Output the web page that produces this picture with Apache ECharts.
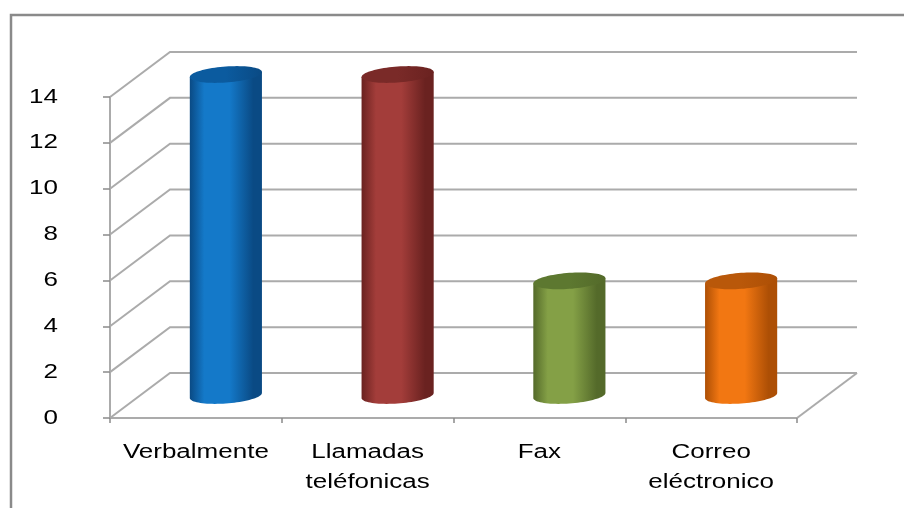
<!DOCTYPE html>
<html>
<head>
<meta charset="utf-8">
<script src="https://cdn.jsdelivr.net/npm/echarts@6/dist/echarts.min.js"></script>
<style>
  html, body { margin: 0; padding: 0; background: #ffffff; }
  #chart { width: 904px; height: 508px; }
</style>
</head>
<body>
<div id="chart"></div>
<script>
// Chart data
const categories = ['Verbalmente', 'Llamadas\nteléfonicas', 'Fax', 'Correo\neléctronico'];
const values = [14, 14, 5, 5];
const yTicks = [0, 2, 4, 6, 8, 10, 12, 14];

// Per-bar shading: [edge, body highlight, top cap]
const palette = [
  ['#0a4a84', '#1479c9', '#0b5b9f'],
  ['#6a2220', '#a33d3a', '#7a2a28'],
  ['#546a2a', '#84a046', '#5d7830'],
  ['#ad4f05', '#f27712', '#b9580a']
];

// Oblique depth offset of the back wall (pixels)
const DEPTH_X = 60;
const DEPTH_Y = -45;
const GRID_COLOR = '#ababab';
const FONT_FAMILY = '"Liberation Sans", Arial, sans-serif';
const FONT_SIZE = 20;
const TEXT_STRETCH = 1.3;   // wide-set lettering of the labels
const Y_LABEL_GAP = 52;     // from the axis line to the right edge of a tick label
const X_LABEL_GAP = 19;     // from the floor edge to the top of a category label

const chart = echarts.init(document.getElementById('chart'), null, { renderer: 'canvas' });

// Back wall + side wall gridlines, one per y tick
function renderWalls(params, api) {
  const v = api.value(1);
  const band = api.size([1, 0])[0];
  const pL = api.coord([0, v]);
  const pR = api.coord([categories.length - 1, v]);
  const left = pL[0] - band / 2;
  const right = pR[0] + band / 2;
  const y = pL[1];
  const style = { stroke: GRID_COLOR, lineWidth: 2, fill: null };
  const children = [
    { type: 'polyline', shape: { points: [[left, y], [left + DEPTH_X, y + DEPTH_Y], [right + DEPTH_X, y + DEPTH_Y]] }, style: style }
  ];
  if (v === 0) {
    children.push({ type: 'line', shape: { x1: right, y1: y, x2: right + DEPTH_X, y2: y + DEPTH_Y }, style: style });
  }
  return { type: 'group', children: children };
}

// Tick labels of the value axis
function renderYLabel(params, api) {
  const v = api.value(1);
  const band = api.size([1, 0])[0];
  const p = api.coord([0, v]);
  return {
    type: 'text',
    x: p[0] - band / 2 - Y_LABEL_GAP,
    y: p[1],
    scaleX: TEXT_STRETCH,
    style: {
      text: String(v),
      align: 'right',
      verticalAlign: 'middle',
      fill: '#000000',
      fontSize: FONT_SIZE,
      fontFamily: FONT_FAMILY
    }
  };
}

// Category labels under the floor edge
function renderXLabel(params, api) {
  const i = api.value(0);
  const p = api.coord([i, 0]);
  return {
    type: 'text',
    x: p[0],
    y: p[1] + X_LABEL_GAP,
    scaleX: TEXT_STRETCH,
    style: {
      text: categories[i],
      align: 'center',
      verticalAlign: 'top',
      lineHeight: 30,
      fill: '#000000',
      fontSize: FONT_SIZE,
      fontFamily: FONT_FAMILY
    }
  };
}

// Cylinder standing at mid depth
function renderCylinder(params, api) {
  const i = api.value(0);
  const v = api.value(1);
  const top = api.coord([i, v]);
  const base = api.coord([i, 0]);
  const band = api.size([1, 0])[0];
  const cx = top[0] + DEPTH_X / 2;
  const topY = top[1] + DEPTH_Y / 2;
  const botY = base[1] + DEPTH_Y / 2;
  const rx = band * 0.21;
  const ry = 8;
  const tilt = 0.07;
  const pt = (t, cy) => [cx + rx * Math.cos(t), cy + ry * Math.sin(t) - tilt * rx * Math.cos(t)];
  const N = 40;
  const body = [];
  for (let k = 0; k <= N; k++) body.push(pt(Math.PI - Math.PI * k / N, botY));
  body.push(pt(0, topY));
  body.push(pt(Math.PI, topY));
  const cap = [];
  for (let k = 0; k < 2 * N; k++) cap.push(pt(2 * Math.PI * k / (2 * N), topY));
  const c = palette[i];
  const bodyFill = new echarts.graphic.LinearGradient(0, 0, 1, 0, [
    { offset: 0, color: c[0] },
    { offset: 0.2, color: c[1] },
    { offset: 0.55, color: c[1] },
    { offset: 0.88, color: c[0] },
    { offset: 1, color: c[0] }
  ]);
  const capFill = new echarts.graphic.LinearGradient(0, 0, 1, 0, [
    { offset: 0, color: c[2] },
    { offset: 0.5, color: c[2] },
    { offset: 1, color: c[0] }
  ]);
  return {
    type: 'group',
    children: [
      { type: 'polygon', shape: { points: body }, style: { fill: bodyFill } },
      { type: 'polygon', shape: { points: cap }, style: { fill: capFill } }
    ]
  };
}

chart.setOption({
  animation: false,
  backgroundColor: '#ffffff',
  graphic: [
    {
      type: 'rect',
      shape: { x: 11, y: 15, width: 1000, height: 1000 },
      style: { fill: null, stroke: '#8a8a8a', lineWidth: 2.5 },
      silent: true
    }
  ],
  grid: { left: 110, right: 107, top: 97, bottom: 90, containLabel: false },
  xAxis: {
    type: 'category',
    data: categories,
    boundaryGap: true,
    axisLine: { show: true, lineStyle: { color: GRID_COLOR, width: 2 } },
    axisTick: { show: true, length: 5, interval: 0, lineStyle: { color: '#8a8a8a', width: 1.5 } },
    axisLabel: { show: false },
    splitLine: { show: false }
  },
  yAxis: {
    type: 'value',
    min: 0,
    max: 14,
    interval: 2,
    axisLine: { show: true, lineStyle: { color: GRID_COLOR, width: 2 } },
    axisTick: { show: true, length: 7, lineStyle: { color: '#8a8a8a', width: 1.5 } },
    axisLabel: { show: false },
    splitLine: { show: false }
  },
  series: [
    {
      type: 'custom',
      name: 'walls',
      clip: false,
      z: 1,
      silent: true,
      renderItem: renderWalls,
      data: yTicks.map(v => [0, v])
    },
    {
      type: 'custom',
      name: 'yLabels',
      clip: false,
      z: 2,
      silent: true,
      renderItem: renderYLabel,
      data: yTicks.map(v => [0, v])
    },
    {
      type: 'custom',
      name: 'xLabels',
      clip: false,
      z: 2,
      silent: true,
      renderItem: renderXLabel,
      data: categories.map((c, i) => [i, 0])
    },
    {
      type: 'custom',
      name: 'valores',
      clip: false,
      z: 3,
      renderItem: renderCylinder,
      data: values.map((v, i) => [i, v])
    }
  ]
});
</script>
</body>
</html>
